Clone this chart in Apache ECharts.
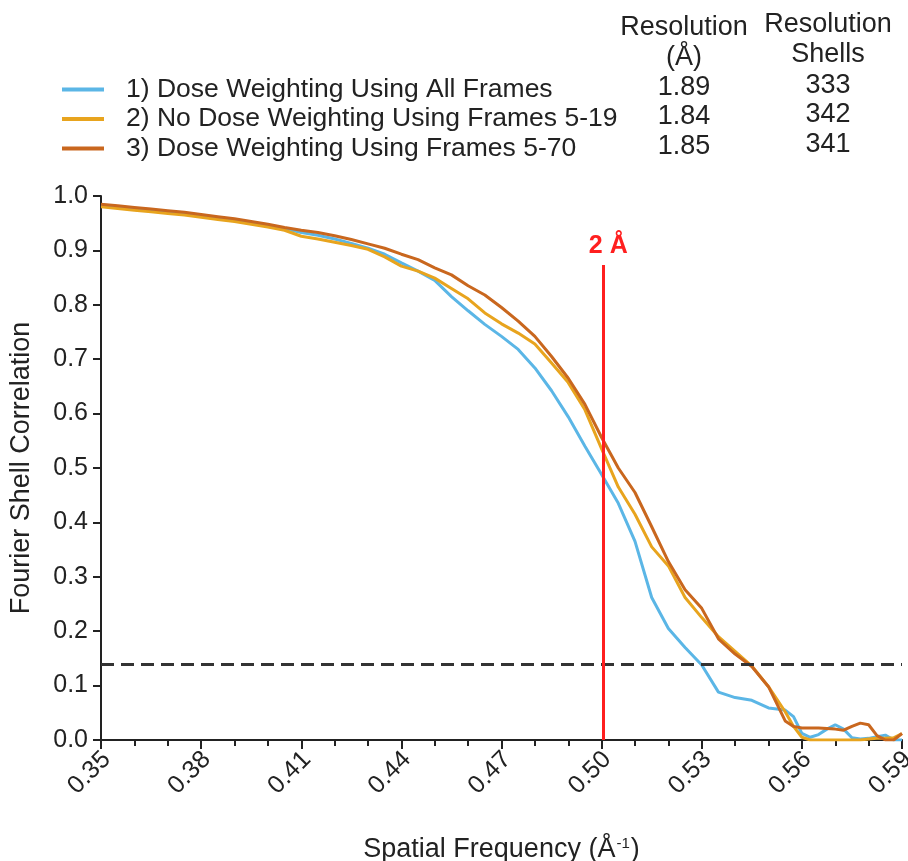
<!DOCTYPE html>
<html>
<head>
    <meta charset="utf-8">
    <script src="https://cdn.jsdelivr.net/npm/echarts@6/dist/echarts.min.js"></script>
</head>
<body style="margin:0">

    <div id="main" style="width: 908px;height:861px;position:absolute"></div>

<script type="text/javascript">
// spatial frequency (1/A)
var freq = [0.35, 0.355, 0.36, 0.365, 0.37, 0.375, 0.38, 0.385, 0.39, 0.395,
    0.40, 0.405, 0.41, 0.415, 0.42, 0.425, 0.43, 0.435, 0.44, 0.445,
    0.45, 0.455, 0.46, 0.465, 0.47, 0.475, 0.48, 0.485, 0.49, 0.495,
    0.50, 0.505, 0.51, 0.515, 0.52, 0.525, 0.53, 0.535, 0.54, 0.545,
    0.55, 0.555, 0.5575, 0.56, 0.5625, 0.565, 0.5675, 0.57, 0.5725, 0.575,
    0.5775, 0.58, 0.5825, 0.585, 0.5875, 0.59];

var fscAll = [0.983, 0.980, 0.976, 0.973, 0.970, 0.967, 0.964, 0.960, 0.956, 0.951,
    0.946, 0.940, 0.933, 0.928, 0.921, 0.913, 0.904, 0.893, 0.877, 0.862,
    0.845, 0.815, 0.789, 0.764, 0.742, 0.718, 0.684, 0.642, 0.594, 0.540,
    0.488, 0.435, 0.365, 0.262, 0.205, 0.170, 0.138, 0.088, 0.078, 0.073,
    0.059, 0.055, 0.043, 0.012, 0.005, 0.010, 0.020, 0.028, 0.020, 0.004,
    0.002, 0.003, 0.006, 0.009, 0.000, 0.000];

var fsc519 = [0.980, 0.977, 0.974, 0.971, 0.968, 0.965, 0.961, 0.957, 0.953, 0.948,
    0.943, 0.937, 0.926, 0.921, 0.915, 0.909, 0.902, 0.888, 0.871, 0.862,
    0.849, 0.830, 0.811, 0.785, 0.765, 0.748, 0.728, 0.693, 0.657, 0.607,
    0.535, 0.465, 0.415, 0.355, 0.320, 0.262, 0.225, 0.190, 0.163, 0.136,
    0.098, 0.052, 0.025, 0.005, 0.000, 0.000, 0.000, 0.000, 0.000, 0.000,
    0.000, 0.002, 0.003, 0.003, 0.004, 0.012];

var fsc570 = [0.985, 0.982, 0.979, 0.976, 0.973, 0.970, 0.966, 0.962, 0.958, 0.953,
    0.948, 0.942, 0.937, 0.933, 0.927, 0.920, 0.912, 0.904, 0.893, 0.883,
    0.868, 0.855, 0.835, 0.818, 0.795, 0.770, 0.742, 0.705, 0.665, 0.617,
    0.556, 0.500, 0.455, 0.392, 0.328, 0.276, 0.242, 0.186, 0.158, 0.135,
    0.098, 0.035, 0.025, 0.022, 0.022, 0.022, 0.021, 0.020, 0.018, 0.025,
    0.031, 0.028, 0.008, 0.000, 0.000, 0.012];

var names = ['1) Dose Weighting Using All Frames', '2) No Dose Weighting Using Frames 5-19', '3) Dose Weighting Using Frames 5-70'];
var resolution = ['1.89', '1.84', '1.85'];
var shells = ['333', '342', '341'];
var colors = ['#5bb6e6', '#e8a41e', '#c9671e'];
var threshold = 0.143;
var marker = 0.5005;     // 2 A
var markerTop = 0.873;

var FONT = 'Liberation Sans, Arial, sans-serif';

// x is drawn in units of 0.01 from 0.35 so the ticks fall on 0.35, 0.38 ...
function toU(f) { return Math.round((f - 0.35) * 100 * 1000) / 1000; }
function pairs(ys) {
    return freq.map(function (f, i) { return [toU(f), ys[i]]; });
}

var myChart = echarts.init(document.getElementById('main'));

function txt(s, x, y) {
    return { type: 'text', style: { text: s, x: x, y: y, textAlign: 'center', textVerticalAlign: 'middle', font: '27px ' + FONT, fill: '#222' } };
}
var graphics = [];
var rowY = [88, 117, 147];
graphics.push(txt('Resolution', 684, 28));
graphics.push(txt('(Å)', 684, 58));
graphics.push(txt('Resolution', 828, 25));
graphics.push(txt('Shells', 828, 55));
for (var i = 0; i < 3; i++) {
    graphics.push(txt(resolution[i], 684, rowY[i]));
    graphics.push(txt(shells[i], 828, rowY[i] - 2));
}

var dataSets = [fscAll, fsc519, fsc570];
var series = dataSets.map(function (ys, i) {
    return {
        name: names[i],
        type: 'line',
        data: pairs(ys),
        showSymbol: false,
        lineStyle: { color: colors[i], width: 3 },
        itemStyle: { color: colors[i] },
        animation: false
    };
});
series[2].markLine = {
    silent: true,
    symbol: ['none', 'none'],
    animation: false,
    data: [
        {
            yAxis: threshold,
            lineStyle: { color: '#333', width: 3, type: [13, 7] },
            label: { show: false }
        },
        [
            { coord: [toU(marker), 0], lineStyle: { color: '#ff1f1f', width: 3, type: 'solid' } },
            {
                coord: [toU(marker), markerTop],
                label: { show: true, position: 'end', formatter: '2 Å', color: '#ff1f1f', fontWeight: 'bold', fontSize: 25, fontFamily: FONT, distance: 6, offset: [5, 0] }
            }
        ]
    ]
};

myChart.setOption({
    animation: false,
    textStyle: { fontFamily: FONT },
    grid: { left: 101, top: 196, width: 801, height: 544, outerBoundsMode: 'none', containLabel: false },
    legend: {
        orient: 'vertical',
        left: 57,
        top: 71,
        icon: 'rect',
        itemWidth: 42,
        itemHeight: 4,
        itemGap: 2.5,
        textStyle: { fontSize: 26.5, color: '#222', fontFamily: FONT, padding: [0, 0, 0, 17] },
        data: names
    },
    xAxis: {
        type: 'value',
        min: 0,
        max: 24,
        interval: 3,
        name: '{a|Spatial Frequency (Å}{s|-1}{a|)}',
        nameLocation: 'middle',
        nameGap: 96,
        nameTextStyle: {
            rich: {
                a: { fontSize: 27, color: '#222', fontFamily: FONT },
                s: { fontSize: 15, color: '#222', fontFamily: FONT, verticalAlign: 'top', padding: [0, 1, 12, 1] }
            }
        },
        axisLine: { lineStyle: { color: '#222', width: 2 } },
        axisTick: { show: true, inside: false, length: 9, lineStyle: { color: '#222', width: 2 } },
        minorTick: { show: true, splitNumber: 3, length: 6, lineStyle: { color: '#222', width: 2 } },
        splitLine: { show: false },
        axisLabel: {
            rotate: 45,
            color: '#222',
            margin: 10,
            formatter: function (v) { return '{t|' + ((v + 35) / 100).toFixed(2) + '}'; },
            rich: {
                t: { fontSize: 25, color: '#222', fontFamily: FONT, padding: [16, 0, 0, 0] }
            }
        }
    },
    yAxis: {
        type: 'value',
        min: 0,
        max: 1,
        interval: 0.1,
        name: 'Fourier Shell Correlation',
        nameLocation: 'middle',
        nameGap: 66,
        nameTextStyle: { fontSize: 27, color: '#222', fontFamily: FONT },
        axisLine: { show: true, lineStyle: { color: '#222', width: 2 } },
        axisTick: { show: true, inside: false, length: 8, lineStyle: { color: '#222', width: 2 } },
        splitLine: { show: false },
        axisLabel: {
            fontSize: 25,
            color: '#222',
            margin: 13,
            formatter: function (v) { return v.toFixed(1); }
        }
    },
    graphic: graphics,
    series: series
});
</script>

</body>
</html>
